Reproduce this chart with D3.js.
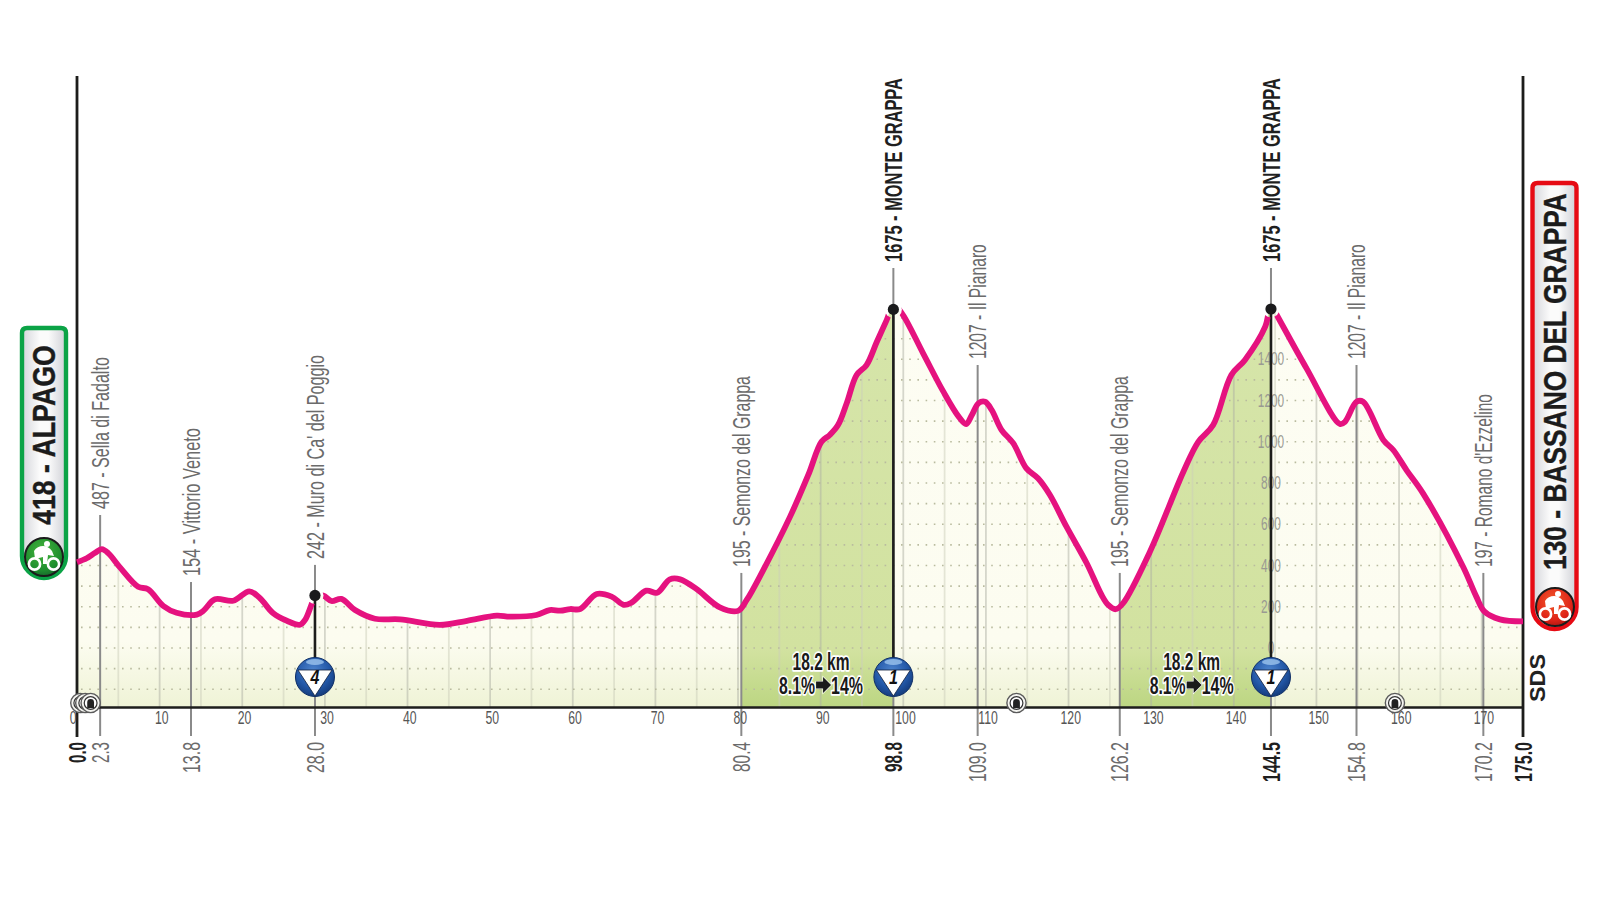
<!DOCTYPE html>
<html><head><meta charset="utf-8">
<script src="https://cdn.jsdelivr.net/npm/d3@7/dist/d3.min.js"></script>
<style>html,body{margin:0;background:#fff}svg{display:block}text{font-family:"Liberation Sans",Arial,sans-serif}</style>
</head><body><svg id="c" width="1600" height="900"></svg>
<script>
// ---- data ----
const profileKm   = [0,1.17,2.2,3.0,3.8,5.2,7.4,8.6,10.45,12.05,14.5,15.3,16.7,18.9,20.85,22.15,23.75,25.4,27,27.6,28.4,28.8,29.8,30.8,32,33.65,36.06,39.1,43.9,47.2,50.8,52.4,55.6,57.2,58.5,59.7,60.9,62.9,64.7,66.2,67.1,68.9,70.2,71.75,73,75,77.8,80,81.05,83.05,86.3,88.5,90.1,91.1,92.1,93.15,94.35,95.55,96.8,98,98.8,99.8,102.4,104.85,106.7,107.6,108.3,109.1,109.9,110.7,111.9,113.3,114.9,116.3,117.75,119.75,122.2,124,124.8,125.7,126.6,129.85,133.9,135.7,137.5,139.7,141.35,143.8,144.5,145.2,148.8,152.85,153.45,154.85,155.65,158.1,159.3,160.9,162.9,167.75,169.35,170.35,172.2,175];
const profileElev = [416,435,462,479,459,391,297,285,204,171,162,181,236,229,275,241,168,132,113,136,213,252,254,228,238,184,142,139,112,132,157,152,160,184,181,189,189,262,249,209,220,278,268,333,333,285,197,180,233,378,637,839,1000,1033,1081,1187,1324,1372,1485,1591,1665,1625,1429,1243,1122,1086,1130,1187,1194,1154,1057,993,871,823,742,588,411,257,209,188,217,467,855,1000,1081,1324,1397,1558,1665,1615,1356,1086,1097,1194,1194,1009,960,863,750,394,249,176,139,129];
const markerKm    = [2.8,13.8,28.8,80.4,98.8,109,126.2,144.5,154.85,170.2];
const markerKmText= ["2.3","13.8","28.0","80.4","98.8","109.0","126.2","144.5","154.8","170.2"];
const markerText  = ["487 - Sella di Fadalto","154 - Vittorio Veneto","242 - Muro di Ca' del Poggio","195 - Semonzo del Grappa","1675 - MONTE GRAPPA","1207 - Il Pianaro","195 - Semonzo del Grappa","1675 - MONTE GRAPPA","1207 - Il Pianaro","197 - Romano d'Ezzelino"];
const markerTopElev = [645,320,403,364,1843,1372,364,1843,1372,364];
const markerBold  = [false,false,false,false,true,false,false,true,false,false];
const summitKm    = [28.8,98.8,144.5];
const summitElev  = [255,1642,1644];
const summitCat   = ["4","1","1"];
const climbFromKm = [80.4,126.2];
const climbToKm   = [98.8,144.5];
const climbLabelKm= [90.05,134.9];
const climbLine1  = "18.2 km";
const climbLine2a = "8.1%";
const climbLine2b = "14%";
const kmTicks     = d3.range(0,171,10);
const gridKm      = d3.range(5,175,5);
const gridElev    = d3.range(-200,1601,100);
const elevTicks   = d3.range(0,1401,200);
const tunnelKm    = [0.4,1.0,1.65,113.7,159.5];
const startText   = "418 - ALPAGO";
const finishText  = "130 - BASSANO DEL GRAPPA";
const creditText  = "SDS";

// ---- scales ----
const x = d3.scaleLinear([0,175],[77,1523]);
const y = d3.scaleLinear([0,1400],[648,359.3]);
const baseElev = y.invert(707);
const svg = d3.select("#c");
const defs = svg.append("defs");
const pts = profileKm.map((k,i)=>[k,profileElev[i]]);
const curve = d3.curveCatmullRom.alpha(0.5);

function lin(id,stops,x2,y2){const g=defs.append("linearGradient").attr("id",id).attr("x1",0).attr("y1",0).attr("x2",x2).attr("y2",y2);
  stops.forEach(s=>g.append("stop").attr("offset",s[0]).attr("stop-color",s[1]));}
lin("pale",[[0,"#fdfdf3"],[.84,"#fcfcf0"],[1,"#eff3d6"]],0,1);
lin("green",[[0,"#d6e5aa"],[.86,"#d2e2a0"],[1,"#bcd682"]],0,1);
lin("pill",[[0,"#d4d5da"],[.4,"#fbfbfb"],[.6,"#fbfbfb"],[1,"#cfd0d6"]],1,0);
function rad(id,stops){const g=defs.append("radialGradient").attr("id",id).attr("cx",.45).attr("cy",.35).attr("r",.7);
  stops.forEach(s=>g.append("stop").attr("offset",s[0]).attr("stop-color",s[1]));}
rad("blue",[[0,"#4f86cf"],[.6,"#2358a8"],[1,"#123673"]]);
rad("gIcon",[[0,"#45b53c"],[.7,"#1f8f2f"],[1,"#14642a"]]);
rad("rIcon",[[0,"#f25a2a"],[.7,"#df2418"],[1,"#a81410"]]);

const area = d3.area().x(d=>x(d[0])).y0(y(baseElev)).y1(d=>y(d[1])).curve(curve);
const line = d3.line().x(d=>x(d[0])).y(d=>y(d[1])).curve(curve);
defs.append("clipPath").attr("id","under").append("path").attr("d",area(pts));
const mask = defs.append("mask").attr("id","gaps").attr("maskUnits","userSpaceOnUse").attr("x",0).attr("y",0).attr("width",1600).attr("height",900);
mask.append("rect").attr("width",1600).attr("height",900).attr("fill","#fff");
summitKm.forEach((k,i)=>mask.append("circle").attr("cx",x(k)).attr("cy",y(summitElev[i])).attr("r",8.5).attr("fill","#000"));

// ---- filled profile ----
const fill = svg.append("g").attr("clip-path","url(#under)");
fill.append("rect").attr("x",x(0)).attr("width",x(175)-x(0)).attr("y",y(1700)).attr("height",y(baseElev)-y(1700)).attr("fill","url(#pale)");
climbFromKm.forEach((k,i)=>fill.append("rect").attr("x",x(k)).attr("width",x(climbToKm[i])-x(k)).attr("y",y(1700)).attr("height",y(baseElev)-y(1700)).attr("fill","url(#green)"));
fill.selectAll(".gv").data(gridKm).join("line").attr("x1",d=>x(d)).attr("x2",d=>x(d)).attr("y1",y(1700)).attr("y2",y(baseElev))
  .attr("stroke",d=>d%10===0?"#aeb0a4":"#ccceba").attr("stroke-width",1.8).attr("stroke-dasharray","1 1");
fill.selectAll(".gh").data(gridElev).join("line").attr("x1",x(0)+4).attr("x2",x(175)-4).attr("y1",d=>y(d)).attr("y2",d=>y(d))
  .attr("stroke","#b9bb9f").attr("stroke-width",1.6).attr("stroke-dasharray","1.6 6.6");

// ---- elevation scale beside the last summit ----
const yAxis = svg.append("g").attr("transform",`translate(${x(144.5)},0)`).call(d3.axisRight(y).tickValues(elevTicks).tickSize(0).tickFormat(d3.format("d")));
yAxis.select(".domain").remove();
yAxis.selectAll("text").attr("x",0).attr("text-anchor","middle").attr("transform","scale(.68,1)")
  .attr("font-size",17.5).style("font-family",'"Liberation Sans"').attr("fill","#9a9a92");

// ---- leaders ----
svg.selectAll(".lead").data(markerKm).join("line").attr("x1",d=>x(d)).attr("x2",d=>x(d))
  .attr("y1",(d,i)=>y(markerTopElev[i])).attr("y2",736).attr("stroke","#8a8a8a").attr("stroke-width",2);
summitKm.forEach((k,i)=>svg.append("line").attr("x1",x(k)).attr("x2",x(k)).attr("y1",y(summitElev[i])).attr("y2",665).attr("stroke","#1d1d1b").attr("stroke-width",2.6));

// ---- axes frame ----
[0,175].forEach(k=>svg.append("line").attr("x1",x(k)).attr("x2",x(k)).attr("y1",76).attr("y2",737).attr("stroke","#1d1d1b").attr("stroke-width",2.8));
const kmAxis = svg.append("g").attr("transform",`translate(0,${y(baseElev)})`).call(d3.axisBottom(x).tickValues(kmTicks).tickSize(0).tickSizeOuter(0).tickPadding(5));
kmAxis.select(".domain").attr("stroke","#1d1d1b").attr("stroke-width",2.6);
kmAxis.selectAll("text").attr("font-size",17.5).style("font-family",'"Liberation Sans"').attr("fill","#555")
  .attr("transform","scale(.7,1)").attr("x",d=>(d===0?-4.3:1.7)/.7);

// ---- pink profile line ----
svg.append("path").attr("d",line(pts)).attr("fill","none").attr("stroke","#e5127f").attr("stroke-width",5.8)
  .attr("stroke-linejoin","round").attr("stroke-linecap","butt").attr("mask","url(#gaps)");
svg.selectAll(".dot").data(summitKm).join("circle").attr("cx",d=>x(d)).attr("cy",(d,i)=>y(summitElev[i])).attr("r",5.6).attr("fill","#1a1a1c");

// ---- text helpers: squeeze each text to its measured length ----
function fit(sel,base,len){
  const natural=sel.node().getComputedTextLength();
  sel.attr("transform",`${base} scale(${len/natural},1)`);
  return sel;
}
function vtext(px,py,str,size,len,bold,fill,anchor){
  const t=svg.append("text").attr("text-anchor",anchor||"start").attr("dy","0.36em").attr("font-size",size)
    .attr("font-weight",bold?700:400).attr("fill",fill).text(str);
  return fit(t,`translate(${px},${py}) rotate(-90)`,len);
}
const labelLen = [152,148,204,191,184,115,191,184,115,173];
const kmLabelLen = [21,31,31,30,30,40,40,40,40,40];
markerKm.forEach((k,i)=>{
  const b=markerBold[i];
  vtext(x(k),y(markerTopElev[i])-6,markerText[i],24,labelLen[i],b,b?"#1f1f1f":"#6b6b6b");
  vtext(x(k),742,markerKmText[i],24,kmLabelLen[i],b,b?"#1f1f1f":"#6b6b6b","end");
});
vtext(x(0),742,"0.0",24,21,true,"#1f1f1f","end");
vtext(x(175),742,"175.0",24,40,true,"#1f1f1f","end");

// ---- KOM badges ----
summitKm.forEach((k,i)=>{
  const g=svg.append("g").attr("transform",`translate(${x(k)},677)`);
  g.append("circle").attr("r",19.5).attr("fill","url(#blue)").attr("stroke","#0f2f66").attr("stroke-width",1);
  g.append("ellipse").attr("cy",-15).attr("rx",9).attr("ry",3).attr("fill","#9cc4ee").attr("opacity",.8);
  g.append("path").attr("d","M-17,-7 L17,-7 L0,19 Z").attr("fill","#fff").attr("stroke","#10203c").attr("stroke-width",.8);
  g.append("text").attr("text-anchor","middle").attr("y",7).attr("font-size",20).attr("font-weight",700).attr("font-style","italic")
    .attr("fill","#111").attr("transform","scale(.8,1)").text(summitCat[i]);
});

// ---- climb captions ----
climbLabelKm.forEach(k=>{
  const cx=x(k);
  const t=(py,str,dx,len)=>fit(svg.append("text").attr("text-anchor","middle").attr("font-size",24).attr("font-weight",700)
    .attr("fill","#1a1a1a").attr("stroke","#fff").attr("stroke-width",3.5).attr("paint-order","stroke").attr("stroke-linejoin","round").text(str),
    `translate(${cx+dx},${py})`,len);
  t(670,climbLine1,0,57);
  t(694,climbLine2a,-24,36);
  t(694,climbLine2b,26,32);
  svg.append("path").attr("transform",`translate(${cx+2},685)`).attr("d","M-7,-3.5H0V-8L8,0L0,8V3.5H-7Z").attr("fill","#1a1a1a").attr("stroke","#fff").attr("stroke-width",1.2).attr("paint-order","stroke");
});

// ---- tunnels ----
tunnelKm.forEach(k=>{
  const g=svg.append("g").attr("transform",`translate(${x(k)},703)`);
  g.append("circle").attr("r",9.6).attr("fill","#f4f4f0").attr("stroke","#5b5b5b").attr("stroke-width",1.4);
  g.append("circle").attr("r",6.4).attr("fill","#fff").attr("stroke","#333").attr("stroke-width",1.2);
  g.append("path").attr("d","M-3.4,5V-.5A3.4,3.4 0 0 1 3.4,-.5V5Z").attr("fill","#222");
});

// ---- start & finish pills ----
function pill(x0,x1,top,bot,stroke){
  const r=(x1-x0)/2, p=d3.path();
  p.moveTo(x0+5,top);p.lineTo(x1-5,top);p.quadraticCurveTo(x1,top,x1,top+5);p.lineTo(x1,bot-r);
  p.arc(x0+r,bot-r,r,0,Math.PI);p.lineTo(x0,top+5);p.quadraticCurveTo(x0,top,x0+5,top);p.closePath();
  svg.append("path").attr("d",p.toString()).attr("fill","url(#pill)").attr("stroke",stroke).attr("stroke-width",4.4);
}
function bike(g,fillUrl){
  g.append("circle").attr("r",19).attr("fill",fillUrl).attr("stroke","#1b1b1b").attr("stroke-width",2);
  const w=g.append("g").attr("fill","none").attr("stroke","#fff").attr("stroke-width",2.6);
  w.append("circle").attr("cx",-9.5).attr("cy",7).attr("r",5.6);
  w.append("circle").attr("cx",9.5).attr("cy",7).attr("r",5.6);
  g.append("path").attr("d","M-10,-6 C-6,-12 3,-13 8,-6 L10,-1 L4,-2 L3,7 L-1,7 L-1,0 L-9,2 Z").attr("fill","#fff");
  g.append("circle").attr("cx",3).attr("cy",-13).attr("r",3).attr("fill","#fff");
}
pill(22,66,328,578,"#0ba346");
pill(1532.5,1576.5,183,629,"#e60b14");
bike(svg.append("g").attr("transform","translate(44,557)"),"url(#gIcon)");
bike(svg.append("g").attr("transform","translate(1555,607)"),"url(#rIcon)");
const big=(px,py,str,len)=>fit(svg.append("text").attr("dy","0.36em").attr("font-size",31).attr("font-weight",700)
  .attr("fill","#1c1c1c").attr("stroke","#1c1c1c").attr("stroke-width",.4).text(str),`translate(${px},${py}) rotate(-90)`,len);
big(44,525,startText,180);
big(1555,570,finishText,377);

fit(svg.append("text").attr("dy","0.36em").attr("font-size",22).attr("font-weight",700).attr("fill","#222").text(creditText),
  "translate(1537,702) rotate(-90)",48);
</script></body></html>
